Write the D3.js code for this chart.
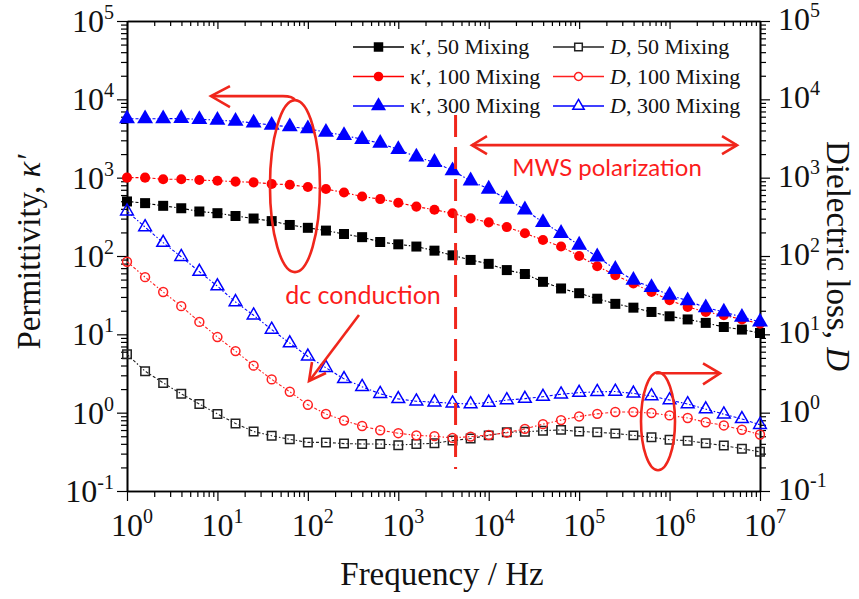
<html>
<head>
<meta charset="utf-8">
<script src="https://d3js.org/d3.v7.min.js"></script>
<style>
  body { margin: 0; background: #fff; }
  text { font-family: "Liberation Serif", "Times New Roman", serif; }
</style>
</head>
<body>
<div id="vis"></div>
<script>

// frequency points (Hz), 5 per decade
var freq = [1, 1.585, 2.512, 3.981, 6.31, 10, 15.85, 25.12, 39.81, 63.1,
    100, 158.5, 251.2, 398.1, 631, 1000, 1585, 2512, 3981, 6310,
    1e4, 1.585e4, 2.512e4, 3.981e4, 6.31e4, 1e5, 1.585e5, 2.512e5, 3.981e5, 6.31e5,
    1e6, 1.585e6, 2.512e6, 3.981e6, 6.31e6, 1e7];

// permittivity kappa'
var kappa50 = [497, 473, 437, 407, 370, 352, 324, 301, 279, 249,
    229, 211, 191, 174, 151, 141, 132, 117, 102, 89.1,
    79.4, 66.1, 58.9, 46.8, 38.5, 33.5, 28.5, 24.5, 21.9, 19.3,
    17, 15.5, 14, 12.4, 11.5, 10.4];
var kappa100 = [1000, 1000, 955, 955, 933, 912, 891, 871, 832, 813,
    759, 716, 646, 575, 533, 479, 427, 389, 351, 302,
    269, 234, 195, 160, 132, 100, 74.1, 57, 44.7, 34.7,
    27.3, 22.4, 19.3, 17.5, 15.5, 13.7];
var kappa300 = [5660, 5660, 5660, 5690, 5550, 5430, 5250, 5010, 4680, 4470,
    4220, 3800, 3470, 3090, 2750, 2290, 1840, 1570, 1230, 912,
    716, 533, 389, 269, 195, 138, 97.7, 67.6, 49, 39.8,
    31.6, 26.9, 21.9, 19.3, 16.6, 14.4];

// dielectric loss D
var loss50 = [5.56, 3.39, 2.40, 1.74, 1.29, 0.962, 0.729, 0.575, 0.507, 0.457,
    0.417, 0.417, 0.403, 0.398, 0.398, 0.385, 0.398, 0.407, 0.44, 0.468,
    0.513, 0.562, 0.569, 0.589, 0.603, 0.575, 0.562, 0.543, 0.513, 0.484,
    0.452, 0.439, 0.407, 0.38, 0.347, 0.316];
var loss100 = [84.5, 53.7, 34.7, 22.9, 14.4, 9.23, 6.11, 3.98, 2.66, 1.85,
    1.26, 0.962, 0.794, 0.676, 0.596, 0.547, 0.513, 0.501, 0.476, 0.495,
    0.519, 0.555, 0.621, 0.713, 0.804, 0.895, 0.966, 1.02, 1.02, 0.99,
    0.923, 0.855, 0.755, 0.687, 0.605, 0.527];
var loss300 = [372, 234, 148, 97.7, 63.1, 41.2, 25.9, 17.5, 11.5, 7.73,
    5.22, 3.74, 2.70, 2.14, 1.74, 1.50, 1.40, 1.36, 1.32, 1.29,
    1.35, 1.45, 1.51, 1.60, 1.72, 1.80, 1.85, 1.86, 1.76, 1.63,
    1.45, 1.29, 1.11, 0.955, 0.832, 0.70];

// tick label exponents
var xExps = [0, 1, 2, 3, 4, 5, 6, 7];
var yExps = [-1, 0, 1, 2, 3, 4, 5];

var margin = { top: 21, right: 99, bottom: 108, left: 127 },
    width = 859 - margin.left - margin.right,
    height = 599 - margin.top - margin.bottom;

var svg = d3.select("#vis")
    .append("svg")
    .attr("width", 859)
    .attr("height", 599);

var g = svg.append("g")
    .attr("transform", "translate(" + margin.left + "," + margin.top + ")");

var x = d3.scaleLog().domain([1, 1e7]).range([0, width]);
var y = d3.scaleLog().domain([0.1, 1e5]).range([height, 0]);

function minorTicks(lo, hi) {
    var out = [];
    for (var e = lo; e < hi; e++) {
        for (var k = 2; k <= 9; k++) out.push(k * Math.pow(10, e));
    }
    return out;
}
var xMajor = xExps.map(function (e) { return Math.pow(10, e); });
var yMajor = yExps.map(function (e) { return Math.pow(10, e); });
var xMinor = minorTicks(0, 7);
var yMinor = minorTicks(-1, 5);

function styleAxis(sel) {
    sel.selectAll("path").attr("stroke", "#000").attr("stroke-width", 1.6);
    sel.selectAll("line").attr("stroke", "#000").attr("stroke-width", 1.2);
}

// bottom axis (ticks outward)
g.append("g").attr("transform", "translate(0," + height + ")")
    .call(d3.axisBottom(x).tickValues(xMajor).tickSize(10).tickSizeOuter(0).tickFormat(""))
    .call(styleAxis);
g.append("g").attr("transform", "translate(0," + height + ")")
    .call(d3.axisBottom(x).tickValues(xMinor).tickSize(6).tickSizeOuter(0).tickFormat(""))
    .call(styleAxis);
// top axis (ticks inward)
g.append("g")
    .call(d3.axisBottom(x).tickValues(xMajor).tickSize(8).tickSizeOuter(0).tickFormat(""))
    .call(styleAxis);
g.append("g")
    .call(d3.axisBottom(x).tickValues(xMinor).tickSize(5).tickSizeOuter(0).tickFormat(""))
    .call(styleAxis);
// left axis (ticks outward)
g.append("g")
    .call(d3.axisLeft(y).tickValues(yMajor).tickSize(10).tickSizeOuter(0).tickFormat(""))
    .call(styleAxis);
g.append("g")
    .call(d3.axisLeft(y).tickValues(yMinor).tickSize(6).tickSizeOuter(0).tickFormat(""))
    .call(styleAxis);
// right axis (ticks outward)
g.append("g").attr("transform", "translate(" + width + ",0)")
    .call(d3.axisRight(y).tickValues(yMajor).tickSize(10).tickSizeOuter(0).tickFormat(""))
    .call(styleAxis);
g.append("g").attr("transform", "translate(" + width + ",0)")
    .call(d3.axisRight(y).tickValues(yMinor).tickSize(6).tickSizeOuter(0).tickFormat(""))
    .call(styleAxis);

// tick labels 10^n
var xl = g.selectAll(".xlab").data(xExps).enter().append("text")
    .attr("x", function (d) { return x(Math.pow(10, d)) - 16; })
    .attr("y", height + 45)
    .attr("font-size", 32)
    .attr("fill", "#111");
xl.append("tspan").text("10");
xl.append("tspan").attr("font-size", 20).attr("dy", -13).text(function (d) { return d; });

var yl = g.selectAll(".ylab").data(yExps).enter().append("text")
    .attr("x", -13)
    .attr("y", function (d) { return y(Math.pow(10, d)) + 11; })
    .attr("text-anchor", "end")
    .attr("font-size", 32)
    .attr("fill", "#111");
yl.append("tspan").text("10");
yl.append("tspan").attr("font-size", 20).attr("dy", -13).text(function (d) { return d; });

var yr = g.selectAll(".yrlab").data(yExps).enter().append("text")
    .attr("x", width + 18)
    .attr("y", function (d) { return y(Math.pow(10, d)) + 9; })
    .attr("font-size", 32)
    .attr("fill", "#111");
yr.append("tspan").text("10");
yr.append("tspan").attr("font-size", 20).attr("dy", -13).text(function (d) { return d; });

// axis titles
svg.append("text")
    .attr("x", 442).attr("y", 585)
    .attr("text-anchor", "middle")
    .attr("font-size", 33)
    .attr("fill", "#111")
    .text("Frequency / Hz");

var lt = svg.append("text")
    .attr("transform", "translate(40,252) rotate(-90)")
    .attr("text-anchor", "middle")
    .attr("font-size", 33)
    .attr("fill", "#111");
lt.append("tspan").text("Permittivity, ");
lt.append("tspan").attr("font-style", "italic").text("\u03ba\u2032");

var rt = svg.append("text")
    .attr("transform", "translate(827,256) rotate(90)")
    .attr("text-anchor", "middle")
    .attr("font-size", 33)
    .attr("fill", "#111");
rt.append("tspan").text("Dielectric loss, ");
rt.append("tspan").attr("font-style", "italic").text("D");

// series
var series = [
    { vals: kappa50, color: "#000", shape: d3.symbolSquare, size: 100, filled: true },
    { vals: kappa100, color: "#ff0000", shape: d3.symbolCircle, size: 80, filled: true },
    { vals: kappa300, color: "#0000ff", shape: d3.symbolTriangle, size: 110, filled: true },
    { vals: loss50, color: "#222", shape: d3.symbolSquare, size: 72, filled: false },
    { vals: loss100, color: "#ff2020", shape: d3.symbolCircle, size: 62, filled: false },
    { vals: loss300, color: "#0000ff", shape: d3.symbolTriangle, size: 70, filled: false }
];

var line = d3.line()
    .x(function (d) { return x(d[0]); })
    .y(function (d) { return y(d[1]); });

series.forEach(function (s) {
    var pts = freq.map(function (f, i) { return [f, s.vals[i]]; });
    g.append("path")
        .datum(pts)
        .attr("d", line)
        .attr("fill", "none")
        .attr("stroke", s.color)
        .attr("stroke-width", 1.1)
        .attr("stroke-dasharray", "3,2,1.5,2");
});

series.forEach(function (s) {
    var pts = freq.map(function (f, i) { return [f, s.vals[i]]; });
    g.selectAll(null)
        .data(pts)
        .enter()
        .append("path")
        .attr("transform", function (d) { return "translate(" + x(d[0]) + "," + y(d[1]) + ")"; })
        .attr("d", d3.symbol().type(s.shape).size(s.size))
        .attr("fill", s.filled ? s.color : "#fff")
        .attr("fill-opacity", s.filled ? 1 : 0)
        .attr("stroke", s.filled ? "none" : s.color)
        .attr("stroke-width", 1.5);
});

// legend
var legendRows = [
    { col: 0, row: 0, s: series[0], label: ["\u03ba\u2032, 50 Mixing"] },
    { col: 0, row: 1, s: series[1], label: ["\u03ba\u2032, 100 Mixing"] },
    { col: 0, row: 2, s: series[2], label: ["\u03ba\u2032, 300 Mixing"] },
    { col: 1, row: 0, s: series[3], label: ["D", ", 50 Mixing"] },
    { col: 1, row: 1, s: series[4], label: ["D", ", 100 Mixing"] },
    { col: 1, row: 2, s: series[5], label: ["D", ", 300 Mixing"] }
];
var colX = [353, 553], rowY = [47, 76.5, 106];
legendRows.forEach(function (r) {
    var lx = colX[r.col], ly = rowY[r.row];
    svg.append("line")
        .attr("x1", lx).attr("x2", lx + 51)
        .attr("y1", ly).attr("y2", ly)
        .attr("stroke", r.s.color).attr("stroke-width", 1.3);
    svg.append("path")
        .attr("transform", "translate(" + (lx + 25.5) + "," + ly + ")")
        .attr("d", d3.symbol().type(r.s.shape).size(r.s.filled ? r.s.size * 0.9 : r.s.size * 0.8))
        .attr("fill", r.s.filled ? r.s.color : "#fff")
        .attr("stroke", r.s.filled ? "none" : r.s.color)
        .attr("stroke-width", 1.5);
    var t = svg.append("text")
        .attr("x", lx + 57).attr("y", ly + 7)
        .attr("font-size", 22)
        .attr("fill", "#111");
    if (r.label.length == 1) {
        t.append("tspan").text(r.label[0]);
    } else {
        t.append("tspan").attr("font-style", "italic").text(r.label[0]);
        t.append("tspan").text(r.label[1]);
    }
});

// annotations
var red = "#f0261c";
var ann = g.append("g").attr("fill", "none").attr("stroke", red).attr("stroke-width", 2.6);

// dashed boundary
ann.append("line")
    .attr("x1", x(4300)).attr("x2", x(4300))
    .attr("y1", 94).attr("y2", 448)
    .attr("stroke-width", 3)
    .attr("stroke-dasharray", "22,10");

// left ellipse + arrow
var e1x = x(72), e1y = y(780);
ann.append("ellipse").attr("cx", e1x).attr("cy", e1y).attr("rx", 25).attr("ry", 86);
ann.append("path").attr("d",
    "M" + e1x + "," + (e1y - 86) + " Q" + (e1x - 2) + "," + (e1y - 90) + " " + (e1x - 12) + "," + (e1y - 90) +
    " L" + (e1x - 83) + "," + (e1y - 90));
ann.append("path").attr("d",
    "M" + (e1x - 65) + "," + (e1y - 100) + " L" + (e1x - 84) + "," + (e1y - 90) + " L" + (e1x - 65) + "," + (e1y - 79));

// right ellipse + arrow
var e2x = x(7.45e5), e2y = y(0.776);
ann.append("ellipse").attr("cx", e2x).attr("cy", e2y).attr("rx", 17).attr("ry", 49);
ann.append("path").attr("d",
    "M" + (e2x - 2) + "," + (e2y - 48) + " L" + (e2x + 61) + "," + (e2y - 48));
ann.append("path").attr("d",
    "M" + (e2x + 45) + "," + (e2y - 58) + " L" + (e2x + 62) + "," + (e2y - 48) + " L" + (e2x + 45) + "," + (e2y - 37));

// MWS double arrow
var my = y(2600), mx1 = x(6530), mx2 = x(5.57e6);
ann.append("path").attr("d", "M" + mx1 + "," + my + " L" + mx2 + "," + my);
ann.append("path").attr("d",
    "M" + (mx1 + 15) + "," + (my - 9) + " L" + mx1 + "," + my + " L" + (mx1 + 15) + "," + (my + 9));
ann.append("path").attr("d",
    "M" + (mx2 - 15) + "," + (my - 9) + " L" + mx2 + "," + my + " L" + (mx2 - 15) + "," + (my + 9));

// dc conduction arrow
ann.append("path").attr("d", "M" + (359 - 127) + "," + (315 - 21) + " L" + (310 - 127) + "," + (380 - 21));
ann.append("path").attr("d",
    "M" + (326 - 127) + "," + (373 - 21) + " L" + (309 - 127) + "," + (381 - 21) + " L" + (312 - 127) + "," + (362 - 21));

g.append("text")
    .attr("x", (607 - 127)).attr("y", (176 - 21))
    .attr("text-anchor", "middle")
    .style("font-family", "Lato, 'Open Sans', sans-serif")
    .attr("font-size", 24)
    .attr("fill", "#fc1c1c")
    .text("MWS polarization");

g.append("text")
    .attr("x", (363 - 127)).attr("y", (304 - 21))
    .attr("text-anchor", "middle")
    .style("font-family", "Lato, 'Open Sans', sans-serif")
    .attr("font-size", 25)
    .attr("fill", "#fc1c1c")
    .text("dc conduction");

</script>
</body>
</html>
